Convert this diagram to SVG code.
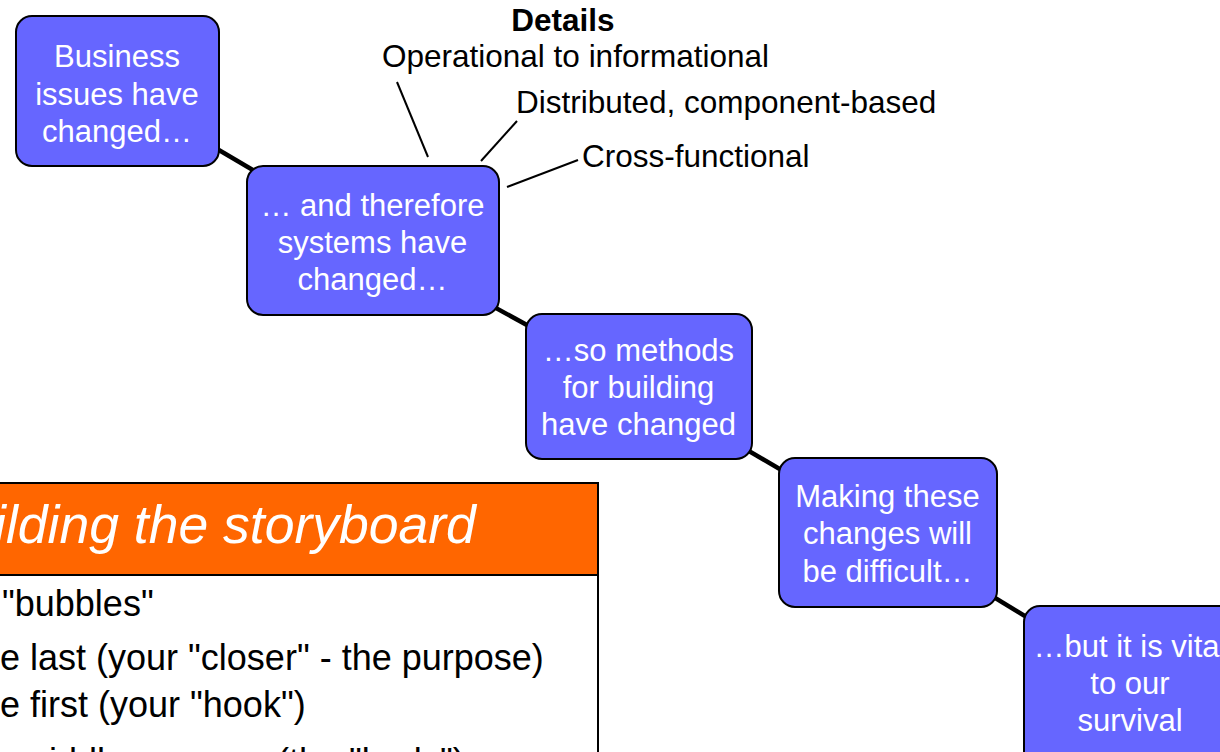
<svg xmlns="http://www.w3.org/2000/svg" width="1220" height="752" viewBox="0 0 1220 752">
<style>
text{font-family:"Liberation Sans",Arial,sans-serif}
.node rect{fill:#6666FF;stroke:#000;stroke-width:2}
.node text{fill:#fff;font-size:31px;text-anchor:middle}
.conn line{stroke:#000;stroke-width:4.5}
.lead line{stroke:#000;stroke-width:2}
.det{font-size:31.5px;fill:#000}
.body{font-size:36px;fill:#000}
</style>
<rect width="1220" height="752" fill="#fff"/>
<g id="connectors" class="conn">
<line x1="117" y1="90" x2="372" y2="240"/>
<line x1="372" y1="240" x2="638" y2="386"/>
<line x1="638" y1="386" x2="887" y2="532"/>
<line x1="887" y1="532" x2="1130" y2="680"/>
</g>
<g id="details">
<text class="det" x="563" y="31" text-anchor="middle" font-weight="bold">Details</text>
<text class="det" x="382" y="67">Operational to informational</text>
<text class="det" x="516" y="113">Distributed, component-based</text>
<text class="det" x="582" y="167">Cross-functional</text>
<g class="lead">
<line x1="397" y1="82" x2="428" y2="157"/>
<line x1="517" y1="121" x2="481" y2="161"/>
<line x1="578" y1="160" x2="507" y2="187"/>
</g>
</g>
<g id="n1" class="node">
<rect x="16" y="16" width="203" height="150" rx="16"/>
<text x="117" y="67">Business</text>
<text x="117" y="105">issues have</text>
<text x="117" y="142">changed…</text>
</g>
<g id="n2" class="node">
<rect x="247" y="166" width="252" height="149" rx="16"/>
<text x="372.5" y="216">… and therefore</text>
<text x="372.5" y="253">systems have</text>
<text x="372.5" y="290">changed…</text>
</g>
<g id="n3" class="node">
<rect x="526" y="314" width="226" height="145" rx="16"/>
<text x="638.5" y="361">…so methods</text>
<text x="638.5" y="398">for building</text>
<text x="638.5" y="435">have changed</text>
</g>
<g id="n4" class="node">
<rect x="779" y="458" width="218" height="149" rx="16"/>
<text x="887.5" y="507">Making these</text>
<text x="887.5" y="544">changes will</text>
<text x="887.5" y="582">be difficult…</text>
</g>
<g id="n5" class="node">
<rect x="1024" y="606" width="214" height="170" rx="16"/>
<text x="1130" y="657">…but it is vital</text>
<text x="1130" y="694">to our</text>
<text x="1130" y="731">survival</text>
</g>
<g id="panel">
<rect x="-4" y="483" width="602" height="92" fill="#FF6600" stroke="#000" stroke-width="2"/>
<rect x="-4" y="575" width="602" height="200" fill="#fff" stroke="#000" stroke-width="2"/>
<text x="-6" y="543" font-size="53.5" font-style="italic" fill="#fff">ilding the storyboard</text>
<text class="body" x="2" y="616">"bubbles"</text>
<text class="body" x="0" y="670">e last (your "closer" - the purpose)</text>
<text class="body" x="0" y="717">e first (your "hook")</text>
<text class="body" x="-11" y="774">e middle ones <tspan x="277">(the "body")</tspan></text>
</g>
</svg>
